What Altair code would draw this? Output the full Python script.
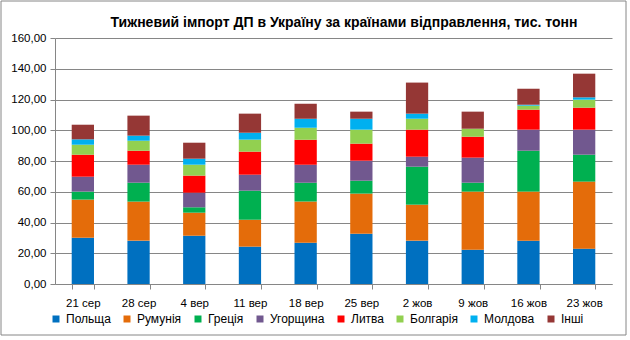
import altair as alt
import pandas as pd

weeks = ["21 сер", "28 сер", "4 вер", "11 вер", "18 вер", "25 вер", "2 жов", "9 жов", "16 жов", "23 жов"]
countries = ["Польща", "Румунія", "Греція", "Угорщина", "Литва", "Болгарія", "Молдова", "Інші"]
colors = ["#0070C0", "#E46C0A", "#00B050", "#71588F", "#FF0000", "#92D050", "#00B0F0", "#953735"]
title_text = "Тижневий імпорт ДП в Україну за країнами відправлення, тис. тонн"

poland    = [30.1, 28.2, 31.4, 24.3, 26.9, 32.7, 28.2, 22.3, 28.2, 23.0]
romania   = [24.8, 25.4, 15.0, 17.5, 26.7, 26.1, 23.4, 37.8, 31.9, 43.6]
greece    = [5.2, 12.3, 3.5, 18.9, 12.3, 8.4, 24.7, 5.8, 26.6, 17.5]
hungary   = [9.7, 11.7, 9.5, 10.4, 11.7, 13.0, 6.5, 16.3, 13.7, 16.3]
lithuania = [14.3, 9.1, 11.1, 15.0, 16.3, 11.1, 17.6, 13.6, 13.0, 14.3]
bulgaria  = [6.5, 6.5, 7.1, 7.8, 7.8, 9.1, 7.1, 5.2, 2.6, 5.2]
moldova   = [3.5, 3.3, 3.9, 4.5, 5.8, 7.1, 3.3, 0.0, 0.6, 1.5]
others    = [9.5, 13.0, 10.4, 12.4, 9.8, 4.6, 20.2, 11.1, 10.4, 15.4]

series = [poland, romania, greece, hungary, lithuania, bulgaria, moldova, others]

rows = []
for ci, (c, vals) in enumerate(zip(countries, series)):
    for w, v in zip(weeks, vals):
        rows.append({"week": w, "country": c, "value": v, "ord": ci})
df = pd.DataFrame(rows)
title_df = pd.DataFrame({"t": [title_text]})

FONT = "Liberation Sans"

bars = alt.Chart(df).mark_bar().encode(
    x=alt.X("week:N", sort=weeks, title=None,
            scale=alt.Scale(paddingInner=0.6, paddingOuter=0.3),
            axis=alt.Axis(labelAngle=0, tickBand="extent", domainColor="#868686",
                          tickColor="#868686", tickSize=5, labelPadding=8,
                          labelFontSize=11.5, labelColor="#000000", labelFont=FONT)),
    y=alt.Y("value:Q", stack="zero", title=None,
            scale=alt.Scale(domain=[0, 160], nice=False),
            axis=alt.Axis(values=[0, 20, 40, 60, 80, 100, 120, 140, 160],
                          labelExpr="replace(format(datum.value, '.2f'), '.', ',')",
                          gridColor="#868686", domainColor="#868686", tickColor="#868686",
                          tickSize=5, labelPadding=4, labelFontSize=11.5,
                          labelColor="#000000", labelFont=FONT)),
    color=alt.Color("country:N", sort=countries,
                    scale=alt.Scale(domain=countries, range=colors),
                    legend=alt.Legend(title=None, orient="none", direction="horizontal",
                                      legendX=-5, legendY=275, columns=8, gridAlign="none",
                                      symbolType="square", symbolSize=49, labelOffset=4,
                                      symbolStrokeWidth=0, labelFontSize=12,
                                      labelFont=FONT, columnPadding=10, labelLimit=200,
                                      labelColor="#000000")),
    order=alt.Order("ord:Q", sort="ascending"),
)

title = alt.Chart(title_df).mark_text(
    font=FONT, fontSize=14, fontWeight="bold", color="#000000",
    align="center", baseline="middle", clip=False
).encode(text="t:N", x=alt.value(289), y=alt.value(-15))

border = alt.Chart(title_df).mark_rect(fill=None, stroke="#868686", strokeWidth=1, clip=False).encode(
    x=alt.value(-54), x2=alt.value(571), y=alt.value(-37), y2=alt.value(297)
)

chart = alt.layer(border, bars, title).properties(
    width=557, height=246,
    autosize=alt.AutoSizeParams(type="none"),
    padding={"left": 55, "top": 38, "right": 18, "bottom": 56},
).configure_view(stroke=None)

chart.save("out.html", embed_options={"renderer": "svg", "actions": False})
